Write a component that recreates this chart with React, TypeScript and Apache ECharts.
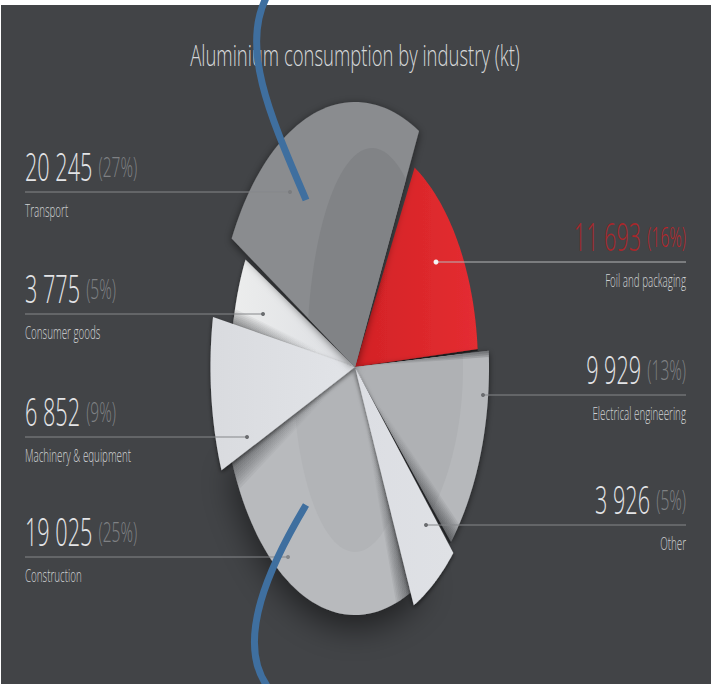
import React, { useEffect, useRef } from "react";
import * as echarts from "echarts";

const titleText = "Aluminium consumption by industry (kt)";
const categories = ["Foil and packaging", "Electrical engineering", "Other", "Construction", "Machinery & equipment", "Consumer goods", "Transport"];
const values = [11693, 9929, 3926, 19025, 6852, 3775, 20245];
const percents = ["16%", "13%", "5%", "25%", "9%", "5%", "27%"];

const W = 712, H = 684;
const CX = 355, CY = 367, START = 31;
// drawing geometry per slice: outer ellipse, inner sheen ellipse (centre + radii), edge nudges, stacking
const geom = [
  { rx: 123, ry: 228, sheen: null, a0: -2, a1: -1.3, z: 3, fill: ["#d32226", "#e42d31"], inner: "", shadow: 0 },
  { rx: 134, ry: 250, sheen: [355, 367, 108, 205], a0: -0.5, a1: 0.2, z: 4, fill: ["#b6b8bb", "#b6b8bb"], inner: "#afb1b4", shadow: 6 },
  { rx: 139, ry: 263, sheen: null, a0: 0.8, a1: 2.1, z: 6, fill: ["#dcdee3", "#dfe1e5"], inner: "", shadow: 4 },
  { rx: 133, ry: 248, sheen: [355, 367, 62, 185], a0: -3, a1: 3.8, z: 2, fill: ["#b8babd", "#b8babd"], inner: "#b2b4b7", shadow: 34 },
  { rx: 144.5, ry: 270, sheen: null, a0: 3.8, a1: 4.3, z: 6, fill: ["#d9dbdf", "#e2e4e8"], inner: "", shadow: 4 },
  { rx: 124, ry: 229, sheen: null, a0: 2.6, a1: 3.6, z: 5, fill: ["#eceded", "#dcdee2"], inner: "", shadow: 4 },
  { rx: 141, ry: 265, sheen: [372, 360, 65, 212], a0: 4.6, a1: -4, z: 7, fill: ["#8a8c8f", "#8a8c8f"], inner: "#818386", shadow: 8 },
];
// soft fold shadows: caster slice, its edge, the slice it falls on, side, widest angle, gradient direction [x,y,x2,y2]
const shades = [
  { caster: 2, edge: 1, target: 3, dir: 1, width: 7, steps: 10, grad: [0, 0.25, 0, 0.85], alpha: 0.06 },
  { caster: 2, edge: 0, target: 1, dir: -1, width: 6, steps: 10, grad: [0, 0.2, 0, 0.95], alpha: 0.075 },
  { caster: 4, edge: 0, target: 3, dir: -1, width: 7, steps: 10, grad: [0.85, 0, 0, 0], alpha: 0.06 },
  { caster: 4, edge: 1, target: 5, dir: 1, width: 4, steps: 8, grad: [0.7, 0, 0, 0], alpha: 0.07 },
  { caster: 1, edge: 0, target: 1, dir: 1, width: 1.4, steps: 3, grad: [0, 0, 1, 0], alpha: 0.16 },
];
// label layout per slice
const labels = [
  { side: "R", lineY: 262, x0: 436, dot: "#f4f4f4" },
  { side: "R", lineY: 395, x0: 483, dot: "#6a6c6f" },
  { side: "R", lineY: 525, x0: 426, dot: "#6a6c6f" },
  { side: "L", lineY: 557, x0: 288, dot: "#85878a" },
  { side: "L", lineY: 437, x0: 247, dot: "#6a6c6f" },
  { side: "L", lineY: 314, x0: 263, dot: "#6a6c6f" },
  { side: "L", lineY: 192, x0: 290, dot: "#7a7c7f" },
];

const fmt = (v: number) => String(v).replace(/\B(?=(\d{3})+$)/g, " ");
const FONT = '"Open Sans", sans-serif';
const rad = (d: number) => (d * Math.PI) / 180;

function angles() {
  const total = values.reduce((a, b) => a + b, 0);
  let c = START;
  return values.map((v, i) => {
    const s = c, e = c + (v / total) * 360;
    c = e;
    return [s + geom[i].a0, e + geom[i].a1];
  });
}

function arcPts(i: number, a0: number, a1: number) {
  const g = geom[i];
  const pts: number[][] = [[CX, CY]];
  for (let k = 0; k <= 48; k++) {
    const t = rad(a0 + ((a1 - a0) * k) / 48);
    pts.push([CX + g.rx * Math.sin(t), CY - g.ry * Math.cos(t)]);
  }
  return pts;
}

function sheenPts(i: number, a0: number, a1: number) {
  const g = geom[i];
  const [ex, ey, erx, ery] = g.sheen as number[];
  const pts: number[][] = [[CX, CY]];
  for (let k = 0; k <= 48; k++) {
    const t = rad(a0 + ((a1 - a0) * k) / 48);
    const px = g.rx * Math.sin(t), py = -g.ry * Math.cos(t);
    const ox = (CX - ex) / erx, oy = (CY - ey) / ery, dx = px / erx, dy = py / ery;
    const A = dx * dx + dy * dy, B = 2 * (ox * dx + oy * dy), C = ox * ox + oy * oy - 1;
    const s = (-B + Math.sqrt(Math.max(0, B * B - 4 * A * C))) / (2 * A);
    const u = Math.min(1, s);
    pts.push([CX + px * u, CY + py * u]);
  }
  return pts;
}

function renderSlice(params: any, api: any) {
  const i = params.dataIndex;
  const ang = angles();
  const [a0, a1] = ang[i];
  const g = geom[i];
  const children: any[] = [
    {
      type: "polygon",
      z2: g.z * 4,
      shape: { points: arcPts(i, a0, a1) },
      style: {
        fill: new echarts.graphic.LinearGradient(0, 0, 1, 0, [
          { offset: 0, color: g.fill[0] },
          { offset: 1, color: g.fill[1] },
        ]),
        shadowBlur: g.shadow,
        shadowColor: "rgba(0,0,0,0.55)",
        shadowOffsetX: 0,
        shadowOffsetY: g.shadow > 20 ? 12 : 2,
      },
    },
  ];
  if (g.sheen) {
    children.push({
      type: "polygon",
      z2: g.z * 4 + 1,
      shape: { points: sheenPts(i, a0, a1) },
      style: { fill: g.inner },
    });
  }
  shades.filter((s) => s.target === i).forEach((s) => {
    const base = ang[s.caster][s.edge];
    for (let n = 1; n <= s.steps; n++) {
      const w = (s.width * n) / s.steps;
      const [x, y, x2, y2] = s.grad;
      children.push({
        type: "polygon",
        z2: g.z * 4 + 2,
        shape: { points: arcPts(i, base, base + s.dir * w) },
        style: {
          fill: new echarts.graphic.LinearGradient(x, y, x2, y2, [
            { offset: 0, color: "rgba(20,22,25,0)" },
            { offset: 1, color: `rgba(20,22,25,${s.alpha})` },
          ]),
        },
      });
    }
  });
  return { type: "group", children };
}

function buildGraphic() {
  const els: any[] = [
    { type: "rect", z: 0, shape: { x: 1, y: 5, width: W - 2, height: H - 5 }, style: { fill: "#424447" } },
    {
      type: "text", z: 10, x: 355, y: 54, scaleX: 0.616,
      style: { text: titleText, fill: "#d6d8da", font: `300 30px ${FONT}`, align: "center", textAlign: "center", verticalAlign: "middle", textVerticalAlign: "middle" },
    },
  ];
  categories.forEach((name, i) => {
    const l = labels[i];
    const right = l.side === "R";
    const red = i === 0;
    const ax = right ? 686 : 25;
    els.push({
      type: "line", z: 10,
      shape: { x1: l.x0, y1: l.lineY, x2: ax, y2: l.lineY },
      style: { stroke: red ? "#b4b6b8" : "#85878a", lineWidth: 1 },
    });
    els.push({ type: "circle", z: 10, shape: { cx: l.x0, cy: l.lineY, r: red ? 2.5 : 2 }, style: { fill: l.dot } });
    els.push({
      type: "text", z: 10, x: ax, y: l.lineY - 26, scaleX: 0.555,
      style: {
        text: `{v|${fmt(values[i])}}{p|(${percents[i]})}`,
        align: right ? "right" : "left",
        textAlign: right ? "right" : "left",
        verticalAlign: "middle",
        textVerticalAlign: "middle",
        rich: {
          v: { fontFamily: "Open Sans", fontWeight: 300, fontSize: 39, fill: red ? "#a8272b" : "#e4e5e7", color: red ? "#a8272b" : "#e4e5e7" },
          p: { fontFamily: "Open Sans", fontWeight: 300, fontSize: 28, padding: [0, 0, 0, 11], fill: red ? "#b9252a" : "#7f8184", color: red ? "#b9252a" : "#7f8184" },
        },
      },
    });
    els.push({
      type: "text", z: 10, x: ax, y: l.lineY + 18, scaleX: 0.545,
      style: { text: name, fill: "#d0d2d4", font: `300 18px ${FONT}`, align: right ? "right" : "left", textAlign: right ? "right" : "left", verticalAlign: "middle", textVerticalAlign: "middle" },
    });
  });
  els.push({
    type: "bezierCurve", z: 20,
    shape: { x1: 266, y1: -2, cpx1: 240, cpy1: 50, cpx2: 272, cpy2: 120, x2: 306, y2: 200 },
    style: { stroke: "#3f6f9f", lineWidth: 7, fill: "none" },
  });
  els.push({
    type: "bezierCurve", z: 20,
    shape: { x1: 306, y1: 505, cpx1: 270, cpy1: 565, cpx2: 235, cpy2: 640, x2: 267, y2: 686 },
    style: { stroke: "#3f6f9f", lineWidth: 7, fill: "none" },
  });
  return els;
}

export default function App() {
  const ref = useRef<HTMLDivElement>(null);
  useEffect(() => {
    document.body.style.margin = "0";
    const chart = echarts.init(ref.current!, undefined, { renderer: "svg" });
    chart.setOption({
      animation: false,
      backgroundColor: "#ffffff",
      graphic: { elements: buildGraphic() },
      series: [
        {
          type: "custom",
          coordinateSystem: "none",
          silent: true,
          z: 2,
          renderItem: renderSlice,
          data: values.map((v, i) => ({ name: categories[i], value: [i, v] })),
        },
      ],
    });
    return () => chart.dispose();
  }, []);
  return <div ref={ref} style={{ width: W, height: H }} />;
}
